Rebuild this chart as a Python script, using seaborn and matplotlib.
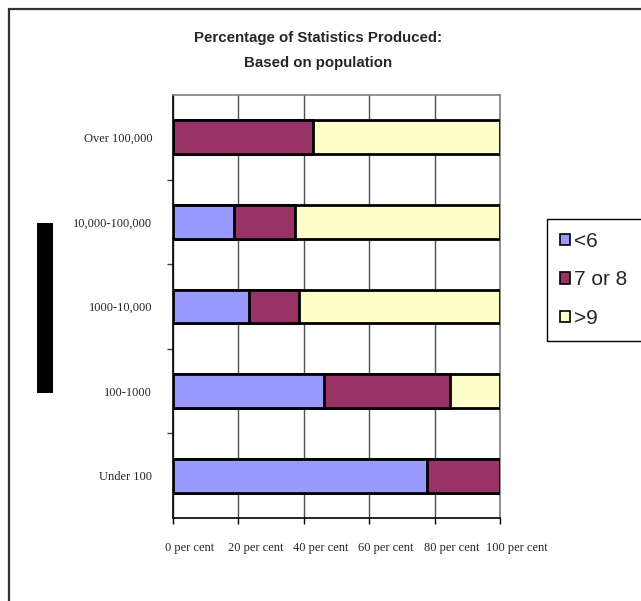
import matplotlib
matplotlib.use("Agg")
import matplotlib.pyplot as plt
import matplotlib.transforms as mtransforms
from matplotlib.patches import Patch, Rectangle
import numpy as np
import pandas as pd
import seaborn as sns

# Population bands, top to bottom
categories = ["Over 100,000", "10,000-100,000", "1000-10,000", "100-1000", "Under 100"]
series_names = ["<6", "7 or 8", ">9"]
under_6 = [0.0, 18.8, 23.1, 46.2, 77.8]
seven_or_8 = [42.9, 18.6, 15.4, 38.5, 22.2]
over_9 = [57.1, 62.6, 61.5, 15.3, 0.0]
x_ticks = [0, 20, 40, 60, 80, 100]
x_tick_labels = ["0 per cent", "20 per cent", "40 per cent", "60 per cent",
                 "80 per cent", "100 per cent"]
colors = ["#9999FF", "#993366", "#FFFFCC"]

df = pd.DataFrame({"band": categories, "<6": under_6, "7 or 8": seven_or_8, ">9": over_9})
cum = df[series_names].cumsum(axis=1)

sns.set_style("white")
fig = plt.figure(figsize=(6.41, 6.01), dpi=100)
W, H = 641, 601
ax = fig.add_axes([173 / W, 1 - 518 / H, (500 - 173) / W, (518 - 95) / H])

# Stacked bars: draw the cumulative totals from longest to shortest
for name, col in zip(reversed(series_names), reversed(colors)):
    sns.barplot(x=cum[name], y=df["band"], orient="h", color=col, width=0.4,
                edgecolor="black", linewidth=2, saturation=1, ax=ax, zorder=3)

ax.set_xlim(0, 100)
ax.set_ylim(4.5, -0.5)
ax.set_xticks(x_ticks)
ax.set_xticklabels(x_tick_labels, fontfamily="Liberation Serif", fontsize=9)
ax.set_yticks(range(len(categories)))
ax.set_yticklabels(categories, fontfamily="Liberation Serif", fontsize=9)
ax.set_yticks(np.arange(0.5, len(categories) - 1, 1.0), minor=True)
ax.tick_params(axis="y", which="major", length=0, pad=15)
ax.tick_params(axis="y", which="minor", length=4, width=1, color="#404040", direction="out", left=True)
ax.tick_params(axis="x", which="major", length=4, width=1, color="black", direction="out", pad=13, bottom=True)
ax.set_xlabel("")
ax.set_ylabel("")

# Shift x tick labels to the right of their ticks
offset = mtransforms.ScaledTranslation(17 / 100, 0, fig.dpi_scale_trans)
for lab in ax.get_xticklabels():
    lab.set_transform(lab.get_transform() + offset)

ax.xaxis.grid(True, color="#505050", linewidth=1)
ax.set_axisbelow(True)
for side in ["left", "bottom"]:
    ax.spines[side].set_color("black")
    ax.spines[side].set_linewidth(1.2)
for side in ["top", "right"]:
    ax.spines[side].set_visible(True)
    ax.spines[side].set_color("#808080")
    ax.spines[side].set_linewidth(1.2)

fig.text(318 / W, 1 - 50.5 / H, "Percentage of Statistics Produced:\nBased on population",
         ha="center", va="center", fontfamily="Liberation Sans", fontweight="bold",
         fontsize=10.8, linespacing=2.0)

# Axis title block
fig.add_artist(Rectangle((37 / W, 1 - 393 / H), 16 / W, 170 / H,
                         transform=fig.transFigure, facecolor="black", edgecolor="none"))

# Chart area border
fig.add_artist(Rectangle((9 / W, -0.1), 1.2, 1 - 9 / H + 0.1, transform=fig.transFigure,
                         facecolor="none", edgecolor="#303030", linewidth=1.6))

handles = [Patch(facecolor=c, edgecolor="black", linewidth=1.2, label=n)
           for c, n in zip(colors, series_names)]
leg = fig.legend(handles=handles, loc="upper left", bbox_to_anchor=(547 / W, 1 - 219 / H),
                 frameon=False,
                 prop={"family": "Liberation Sans", "size": 15},
                 handlelength=0.47, handleheight=0.47, handletextpad=0.2,
                 labelspacing=0.93, borderpad=0.62, borderaxespad=0)

# Legend box runs off the right edge of the figure
fig.canvas.draw()
bb = leg.get_window_extent().transformed(fig.transFigure.inverted())
fig.add_artist(Rectangle((bb.x0, bb.y0), 0.5, bb.height, transform=fig.transFigure,
                         facecolor="none", edgecolor="black", linewidth=1, zorder=1))

fig.savefig("out.png", dpi=100)
